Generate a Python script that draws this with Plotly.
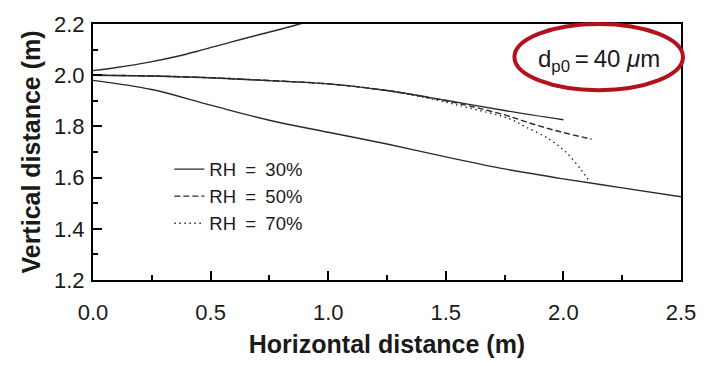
import plotly.graph_objects as go

# Upper branch (shared, solid)
upper_x = [0.0, 0.10, 0.24, 0.35, 0.45, 0.59, 0.73, 0.86, 0.95]
upper_y = [2.018, 2.030, 2.051, 2.072, 2.095, 2.130, 2.164, 2.195, 2.220]

# Lower branch (shared, solid)
lower_x = [0.0, 0.25, 0.5, 0.75, 1.0, 1.25, 1.5, 1.75, 2.0, 2.25, 2.5]
lower_y = [1.980, 1.944, 1.883, 1.824, 1.777, 1.731, 1.681, 1.634, 1.595, 1.560, 1.525]

# Middle branch, one per relative humidity
rh30_x = [0.0, 0.25, 0.5, 0.75, 1.0, 1.25, 1.5, 1.75, 2.0]
rh30_y = [2.000, 1.997, 1.990, 1.979, 1.966, 1.940, 1.902, 1.862, 1.826]

rh50_x = [0.0, 0.25, 0.5, 0.75, 1.0, 1.25, 1.5, 1.6, 1.75, 1.85, 1.97, 2.12]
rh50_y = [2.000, 1.997, 1.990, 1.979, 1.966, 1.940, 1.900, 1.880, 1.845, 1.815, 1.783, 1.750]

rh70_x = [0.0, 0.25, 0.5, 0.75, 1.0, 1.25, 1.45, 1.6, 1.77, 1.84, 1.94, 2.01, 2.08, 2.11]
rh70_y = [2.000, 1.997, 1.990, 1.979, 1.966, 1.940, 1.905, 1.872, 1.830, 1.798, 1.750, 1.700, 1.625, 1.585]

labels = ["RH\u2002=\u200230%", "RH\u2002=\u200250%", "RH\u2002=\u200270%"]

FONT = "Liberation Sans, Arial, Helvetica, sans-serif"
LINE = "#2b2b2b"

fig = go.Figure()
fig.add_trace(go.Scatter(x=rh30_x, y=rh30_y, mode="lines", name=labels[0],
                         line=dict(color=LINE, width=1.4, shape="spline")))
fig.add_trace(go.Scatter(x=rh50_x, y=rh50_y, mode="lines", name=labels[1],
                         line=dict(color=LINE, width=1.4, dash="6px,3px", shape="spline")))
fig.add_trace(go.Scatter(x=rh70_x, y=rh70_y, mode="lines", name=labels[2],
                         line=dict(color=LINE, width=1.4, dash="1.5px,3.5px", shape="spline")))
fig.add_trace(go.Scatter(x=upper_x, y=upper_y, mode="lines", showlegend=False,
                         line=dict(color=LINE, width=1.4, shape="spline")))
fig.add_trace(go.Scatter(x=lower_x, y=lower_y, mode="lines", showlegend=False,
                         line=dict(color=LINE, width=1.4, shape="spline")))

axis_common = dict(showgrid=False, zeroline=False, showline=True, linecolor="black",
                   linewidth=2, mirror=True, ticks="inside", ticklen=9, tickwidth=2,
                   tickcolor="black", tickfont=dict(family=FONT, size=22, color="#1a1a1a"))

fig.update_xaxes(range=[0, 2.5], dtick=0.5, tick0=0, tickformat=".1f", ticklabelstandoff=12,
                 minor=dict(ticks="inside", dtick=0.25, ticklen=5, tickwidth=2, tickcolor="black"),
                 title=dict(text="<b>Horizontal distance (m)</b>",
                            font=dict(family=FONT, size=25, color="#1a1a1a"), standoff=11),
                 **axis_common)
fig.update_yaxes(range=[1.2, 2.2], dtick=0.2, tick0=1.2, tickformat=".1f", ticklabelstandoff=2,
                 minor=dict(ticks="inside", dtick=0.1, ticklen=5, tickwidth=2, tickcolor="black"),
                 title=dict(text="<b>Vertical distance (m)</b>",
                            font=dict(family=FONT, size=25, color="#1a1a1a"), standoff=6),
                 **axis_common)

fig.add_annotation(xref="paper", yref="paper", x=(603 - 93) / 593, y=(289 - 60) / 267,
                   text="d<sub>p0</sub>\u2009=\u200940 <i>\u03bc</i>m", showarrow=False,
                   font=dict(family=FONT, size=24, color="#1a1a1a"),
                   xanchor="center", yanchor="middle")
fig.add_shape(type="circle", xref="paper", yref="paper",
              x0=(518 - 93) / 593, x1=(688 - 93) / 593,
              y0=(289 - 91) / 267, y1=(289 - 22) / 267,
              line=dict(color="#b3121c", width=4))

fig.update_layout(
    width=708, height=366,
    margin=dict(l=93, r=22, t=22, b=77),
    paper_bgcolor="white", plot_bgcolor="white",
    showlegend=True,
    legend=dict(x=(170 - 93) / 593, y=(289 - 154) / 267, xanchor="left", yanchor="top",
                bgcolor="rgba(0,0,0,0)", font=dict(family=FONT, size=18.5, color="#1a1a1a"),
                tracegroupgap=0, itemwidth=30),
)

fig.write_html("out.html", config={"displayModeBar": False},
               post_script="document.body.style.margin='0';")
